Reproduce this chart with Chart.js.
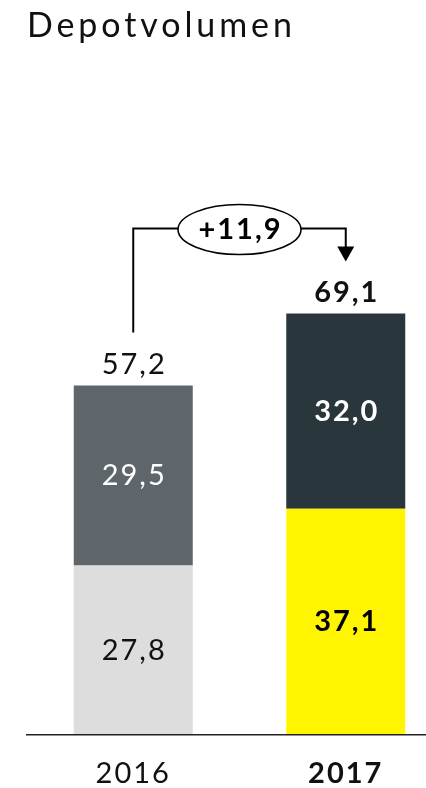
<!DOCTYPE html>
<html>
<head>
<meta charset="utf-8">
<script src="https://cdn.jsdelivr.net/npm/chart.js@4/dist/chart.umd.min.js"></script>
<style>
  html, body { margin: 0; padding: 0; background: #fff; overflow: hidden; }
  #wrap { width: 452px; height: 813px; position: relative; }
</style>
</head>
<body>
<div id="wrap"><canvas id="chart"></canvas></div>
<script>
const years = ["2016", "2017"];
const lowerValues = [27.8, 37.1];
const upperValues = [29.5, 32.0];
const totals = [57.2, 69.1];
const lowerColors = ["#dddddd", "#fff500"];
const upperColors = ["#5f666b", "#29373d"];
const lowerTextColors = ["#111111", "#000000"];
const upperTextColors = ["#ffffff", "#ffffff"];

const FONT = "Lato";
const NUM_SIZE = 29;
const NUM_SPACING = "2px";
const TITLE_SPACING = "3.9px";

function fmt(v) {
    return v.toFixed(1).replace(".", ",");
}

function weightFor(i) {
    return i === 1 ? "bold" : "normal";
}

// wider tracking: title first, then numbers (tick labels are drawn after the bars)
const spacingPlugin = {
    id: "spacing",
    beforeDraw(chart) {
        chart.ctx.letterSpacing = TITLE_SPACING;
    },
    beforeDatasetsDraw(chart) {
        chart.ctx.letterSpacing = NUM_SPACING;
    }
};

const labelsPlugin = {
    id: "labels",
    afterDatasetsDraw(chart) {
        const ctx = chart.ctx;
        ctx.save();
        ctx.letterSpacing = NUM_SPACING;
        ctx.textAlign = "center";
        ctx.textBaseline = "middle";

        const textColors = [lowerTextColors, upperTextColors];
        chart.data.datasets.forEach((ds, di) => {
            const meta = chart.getDatasetMeta(di);
            meta.data.forEach((bar, i) => {
                ctx.font = `${weightFor(i)} ${NUM_SIZE}px ${FONT}`;
                ctx.fillStyle = textColors[di][i];
                ctx.fillText(fmt(ds.data[i]), bar.x + 1, (bar.y + bar.base) / 2);
            });
        });

        // totals above the bars
        const top = chart.getDatasetMeta(1);
        top.data.forEach((bar, i) => {
            ctx.font = `${weightFor(i)} ${NUM_SIZE}px ${FONT}`;
            ctx.fillStyle = "#111";
            ctx.fillText(fmt(totals[i]), bar.x + 1, bar.y - 21);
        });

        // growth bracket with ellipse and arrow
        const b1 = top.data[0];
        const b2 = top.data[1];
        const levelY = b2.y - 85;
        const startY = b1.y - 53;
        const tipY = b2.y - 52;
        const cx = (b1.x + b2.x) / 2;
        const rx = 61.5, ry = 25;

        ctx.strokeStyle = "#000";
        ctx.lineWidth = 2;
        ctx.beginPath();
        ctx.moveTo(b1.x, startY);
        ctx.lineTo(b1.x, levelY);
        ctx.lineTo(cx - rx, levelY);
        ctx.moveTo(cx + rx, levelY);
        ctx.lineTo(b2.x, levelY);
        ctx.lineTo(b2.x, tipY - 14);
        ctx.stroke();

        ctx.fillStyle = "#000";
        ctx.beginPath();
        ctx.moveTo(b2.x - 8.5, tipY - 15);
        ctx.lineTo(b2.x + 8.5, tipY - 15);
        ctx.lineTo(b2.x, tipY);
        ctx.closePath();
        ctx.fill();

        ctx.lineWidth = 1.6;
        ctx.beginPath();
        ctx.ellipse(cx, levelY + 1, rx, ry, 0, 0, Math.PI * 2);
        ctx.stroke();

        ctx.font = `bold ${NUM_SIZE}px ${FONT}`;
        ctx.fillStyle = "#000";
        ctx.fillText("+" + fmt(totals[1] - totals[0]), cx + 1, levelY + 1);
        ctx.restore();
        ctx.letterSpacing = NUM_SPACING;
    }
};

new Chart(document.getElementById("chart"), {
    type: "bar",
    data: {
        labels: years,
        datasets: [
            { label: "lower", data: lowerValues, backgroundColor: lowerColors },
            { label: "upper", data: upperValues, backgroundColor: upperColors }
        ]
    },
    options: {
        responsive: true,
        maintainAspectRatio: false,
        animation: false,
        layout: { padding: { left: 27, right: 0, top: 0, bottom: 0 } },
        categoryPercentage: 1,
        barPercentage: 0.56,
        plugins: {
            legend: { display: false },
            tooltip: { enabled: false },
            title: {
                display: true,
                text: "Depotvolumen",
                align: "start",
                color: "#111",
                font: { family: FONT, size: 34, weight: "normal" },
                padding: { top: 6, bottom: 78.2 }
            }
        },
        scales: {
            x: {
                stacked: true,
                grid: { display: true, drawOnChartArea: false, drawTicks: false },
                border: { display: true, color: "#222", width: 1.5, z: 1 },
                ticks: {
                    z: 1,
                    color: "#111",
                    padding: 21.5,
                    font: (c) => ({ family: FONT, size: NUM_SIZE, weight: weightFor(c.index) })
                }
            },
            y: {
                stacked: true,
                display: false,
                min: 0,
                max: 100
            }
        }
    },
    plugins: [spacingPlugin, labelsPlugin]
});
</script>
</body>
</html>
